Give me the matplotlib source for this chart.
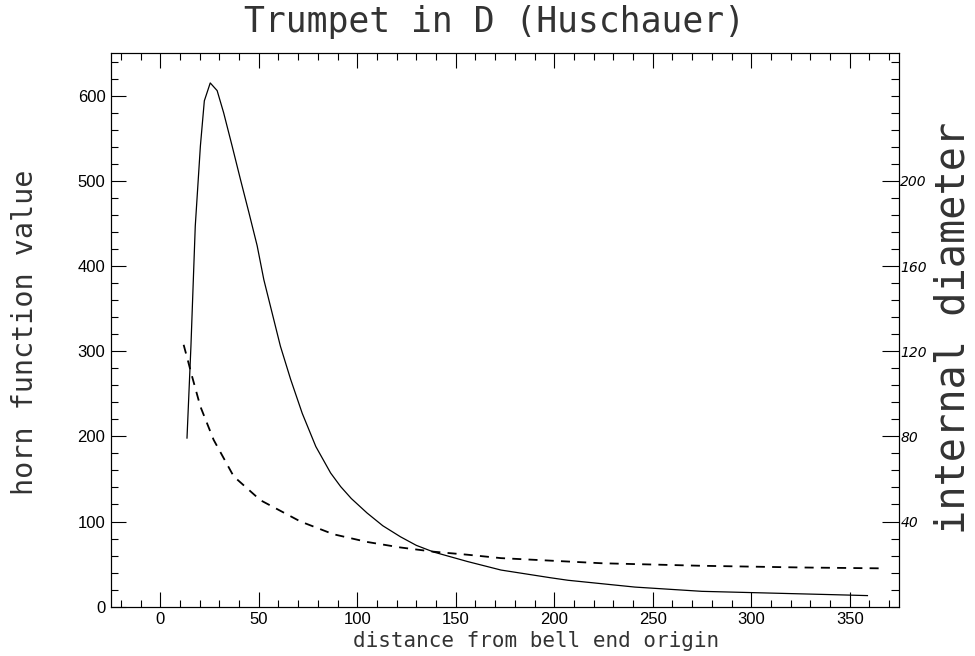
import numpy as np
import matplotlib.pyplot as plt
from matplotlib.ticker import MultipleLocator

# horn function (solid line, left axis)
x_horn = [13.6, 15.6, 17.8, 20.4, 22.4, 25.4, 28.9, 32.2, 36.5, 40.7, 45, 49.2,
          52.6, 56.8, 61, 66.2, 72.1, 79, 86.5, 91.6, 97, 105, 113, 122, 130,
          139, 156, 173, 198, 207, 241, 275, 309, 343, 359]
horn = [198, 306, 447, 541, 594, 615, 606, 580, 541, 502, 463, 424,
        384, 345, 306, 267, 227, 188, 157, 141, 127, 110, 95, 82, 72,
        64, 53, 43, 34, 31, 23, 18, 16, 14, 13]

# internal diameter (dashed line, right axis)
x_diam = [11.9, 14.4, 16.1, 20.4, 27.1, 37.3, 50.9, 71.2, 88, 105, 122, 139,
          156, 173, 190, 224, 275, 326, 366]
diam = [123, 114.4, 108.4, 94, 78.4, 61.2, 50, 40, 34, 30.4, 27.8, 25.8,
        24.4, 22.8, 22, 20.4, 19.2, 18.4, 18]

diam_ticks = [40, 80, 120, 160, 200]

fig = plt.figure(figsize=(9.75, 6.56), dpi=100)
ax = fig.add_axes([0.1138, 0.0752, 0.8082, 0.8438])
ax2 = ax.twinx()

ax.plot(x_horn, horn, '-', color='black', lw=0.9)
ax2.plot(x_diam, diam, '--', color='black', lw=1.3, dashes=(5, 4))

ax.set_xlim(-25, 375)
ax.set_ylim(0, 650)
ax2.set_ylim(0, 260)

ax.xaxis.set_major_locator(MultipleLocator(50))
ax.xaxis.set_minor_locator(MultipleLocator(10))
ax.yaxis.set_major_locator(MultipleLocator(100))
ax.yaxis.set_minor_locator(MultipleLocator(20))
ax2.set_yticks(diam_ticks)
ax2.set_yticklabels([str(v) for v in diam_ticks], fontsize=10, style='italic',
                    family='DejaVu Sans')
ax2.yaxis.set_minor_locator(MultipleLocator(8))

ax.tick_params(which='both', direction='in', top=True, right=False, labelsize=12, width=0.8)
ax.tick_params(which='major', length=11, pad=4)
ax.tick_params(which='minor', length=5)
ax2.tick_params(which='both', direction='in', width=0.8)
ax2.tick_params(which='major', length=12, pad=1)
ax2.tick_params(which='minor', length=6)
for lab in ax.get_xticklabels() + ax.get_yticklabels():
    lab.set_family('Liberation Sans')

for sp in list(ax.spines.values()) + list(ax2.spines.values()):
    sp.set_linewidth(0.8)

fig.text(0.507, 0.966, "Trumpet in D (Huschauer)", ha='center', va='center',
         fontsize=25, family='DejaVu Sans Mono', color='#333333')
fig.text(0.55, 0.023, "distance from bell end origin", ha='center', va='center',
         fontsize=15, family='DejaVu Sans Mono', color='#333333')
fig.text(0.026, 0.494, "horn function value", ha='center', va='center', rotation=90,
         fontsize=20.5, family='DejaVu Sans Mono', color='#333333')
fig.text(0.978, 0.5, "internal diameter", ha='center', va='center', rotation=90,
         fontsize=29, family='DejaVu Sans Mono', color='#333333')

fig.savefig("out.png", dpi=100)
